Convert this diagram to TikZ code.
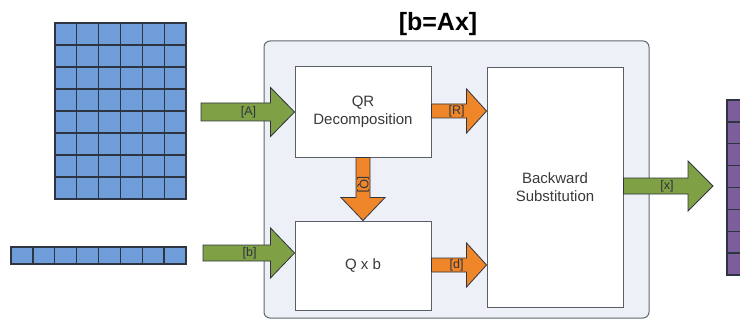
\documentclass[tikz,border=0pt]{standalone}
\usepackage{fontspec}
\setmainfont{Liberation Sans}
\usetikzlibrary{calc}

\definecolor{cellblue}{HTML}{6F9DDA}
\definecolor{cellpurple}{HTML}{7B5E9B}
\definecolor{gridline}{HTML}{2E3540}
\definecolor{arrgreen}{HTML}{7FA044}
\definecolor{arrorange}{HTML}{F0862A}
\definecolor{panel}{HTML}{EDF0F6}
\definecolor{txt}{HTML}{3A3A3A}

\tikzset{
  block/.style={draw=gridline!80, line width=0.9pt, fill=white, text=txt,
    align=center, font=\fontsize{15}{18}\selectfont},
  greenarr/.style={draw=gridline, line width=0.8pt, fill=arrgreen, line join=miter},
  orangearr/.style={draw=gridline, line width=0.8pt, fill=arrorange, line join=miter},
  lbl/.style={text=gridline, inner sep=0pt, font=\fontsize{12.5}{13}\selectfont},
  cellgrid/.style={draw=gridline, line width=1.3pt},
}

% fat arrow: style, from, to, shaft half, head half, head length, label, label gap
\newcommand{\fatharrow}[8]{%
  \draw[#1] let \p1=(#2), \p2=(#3) in
    (\x1,\y1+#4) -- (\x2-#6,\y1+#4) -- (\x2-#6,\y1+#5) -- (\x2,\y1)
    -- (\x2-#6,\y1-#5) -- (\x2-#6,\y1-#4) -- (\x1,\y1-#4) -- cycle
    (\x2-#6-#8,\y1) node[lbl] {#7};
}

\begin{document}
\begin{tikzpicture}[x=1pt,y=-1pt]
  \useasboundingbox (0,0) rectangle (740,321);
  \clip (0,0) rectangle (740,321);

  % input matrix A
  \filldraw[cellgrid, fill=cellblue] (55,23) rectangle (186,199);
  \foreach \i in {1,...,5}
    \draw[cellgrid] (55+\i*131/6,23) -- (55+\i*131/6,199);
  \foreach \j in {1,...,7}
    \draw[cellgrid] (55,23+\j*22) -- (186,23+\j*22);

  % input vector b
  \filldraw[cellgrid, fill=cellblue] (11,247) rectangle (186,264);
  \foreach \i in {1,...,7}
    \draw[cellgrid] (11+\i*175/8,247) -- (11+\i*175/8,264);

  % output vector x
  \filldraw[cellgrid, fill=cellpurple] (727,100) rectangle (750,275);
  \foreach \j in {1,...,7}
    \draw[cellgrid] (727,100+\j*175/8) -- (750,100+\j*175/8);

  % solver panel
  \node[font=\bfseries\fontsize{25}{30}\selectfont, text=black] (title) at (438,24) {[b=Ax]};
  \filldraw[fill=panel, draw=gridline!75, line width=1pt, rounded corners=6pt]
    (264,41) rectangle (649,318);

  \node[block, minimum width=136pt, minimum height=91pt] (qr) at (363,111.5) {QR\\Decomposition};
  \node[block, minimum width=136pt, minimum height=89pt] (qxb) at (363,265.5) {Q x b};
  \node[block, minimum width=136pt, minimum height=240pt] (back) at (555,187) {Backward\\Substitution};

  \coordinate (inA) at (201,112);
  \coordinate (inb) at (203,253);
  \coordinate (outx) at (713,188);

  % connectors
  \fatharrow{greenarr}{inA}{qr.west}{9pt}{24.5pt}{24pt}{[A]}{22pt}
  \fatharrow{greenarr}{inb}{qxb.west}{8pt}{25pt}{24pt}{[b]}{21pt}
  \fatharrow{orangearr}{$(qr.east)+(0,-0.5)$}{back.west}{7pt}{22pt}{20pt}{[R]}{10pt}
  \fatharrow{orangearr}{$(qxb.east)+(0,-0.5)$}{back.west}{7pt}{22pt}{20pt}{[d]}{10pt}
  \fatharrow{greenarr}{$(back.east)+(0,-1)$}{outx}{8pt}{25pt}{25pt}{[x]}{21pt}

  \draw[orangearr] let \p1=(qr.south), \p2=(qxb.north) in
    (\x1-7pt,\y1) -- (\x1-7pt,\y2+23pt) -- (\x1-22pt,\y2+23pt) -- (\x1,\y2)
    -- (\x1+22pt,\y2+23pt) -- (\x1+7pt,\y2+23pt) -- (\x1+7pt,\y1) -- cycle
    (\x1,\y2+36pt) node[lbl, rotate=-90] {[Q]};
\end{tikzpicture}
\end{document}
